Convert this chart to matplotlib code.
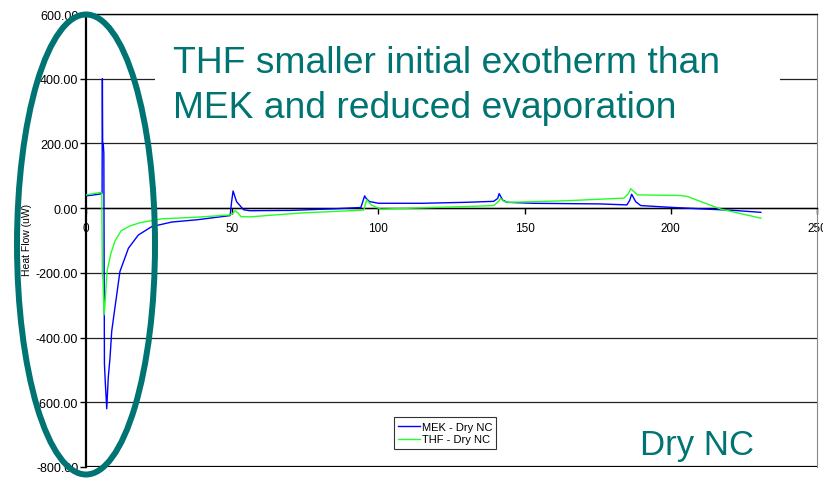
import matplotlib
matplotlib.use('Agg')
import matplotlib.pyplot as plt
from matplotlib.patches import Ellipse, Rectangle

plt.rcParams['font.family'] = ['Liberation Sans', 'DejaVu Sans']

# heat flow traces (time in min, heat flow in uW)
mek_x = [0, 2, 5.0, 5.5, 5.6, 5.7, 5.9, 6.1, 6.3, 6.6, 7.1, 7.6, 8.2, 8.8, 9.4,
         10.5, 11.6, 14.5, 17.9, 22.5, 29.3, 37.9, 49.3, 49.8, 50.3, 51.5, 53.9,
         56, 70, 85, 94, 95.3, 95.8, 97, 98.4, 100, 115, 130, 139.4, 140.8, 141.3,
         142.5, 144, 153, 176, 185, 186, 186.6, 188, 189.7, 198.9, 210, 221.6, 230.8]
mek_y = [38, 40, 44, 46, 400, 200, 200, 170, -480, -540, -620, -525, -464, -380, -340,
         -268, -196, -124, -83, -57, -43, -36, -23, 20, 53, 20, -5,
         -8, -7, -2, 2, 38, 30, 20, 18, 15, 15, 18, 21, 30, 45,
         25, 18, 15, 13, 10, 25, 43, 20, 8, 3, -2, -7, -13]

thf_x = [0, 2, 5.2, 5.4, 5.6, 5.8, 6.2, 6.6, 7.2, 8.5, 9.9, 12, 15, 18.5, 25.9,
         37.9, 49.3, 50.3, 51, 52, 53, 56, 73.3, 90.4, 95, 96, 97.5, 100.7, 115,
         130.4, 139.4, 141, 141.8, 143, 145, 164.6, 184, 185.5, 186.3, 187.5, 188.6,
         203.4, 205.7, 217.1, 230.8]
thf_y = [41, 44, 49, 45, -200, -222, -330, -283, -195, -140, -102, -70, -55, -45, -33,
         -28, -21, -15, -8, -15, -26, -27, -15, -8, -6, 26, 10, -3, 1,
         5, 8, 20, 30, 20, 18, 23, 31, 45, 60, 50, 41,
         39, 36, -3, -31]

y_ticks = [-800, -600, -400, -200, 0, 200, 400, 600]
x_ticks = [0, 50, 100, 150, 200, 250]

teal = '#007472'

fig = plt.figure(figsize=(8.23, 4.81), dpi=100)
ax = fig.add_axes([86 / 823, 13 / 481, 731 / 823, 453 / 481])

ax.plot(mek_x, mek_y, color='#0000FF', lw=1.0, label='MEK - Dry NC', zorder=3)
ax.plot(thf_x, thf_y, color='#22FF22', lw=1.0, label='THF - Dry NC', zorder=3)

ax.set_xlim(0, 250)
ax.set_ylim(-800, 600)
ax.set_yticks(y_ticks)
ax.set_yticklabels([f'{v:.2f}' for v in y_ticks])
ax.set_xticks(x_ticks)
ax.set_xticklabels([str(v) for v in x_ticks])

for v in y_ticks:
    ax.axhline(v, color='#222222', lw=0.9, zorder=1)

ax.spines['bottom'].set_position(('data', 0))
ax.spines['bottom'].set_linewidth(1.0)
ax.spines['left'].set_linewidth(1.6)
ax.spines['top'].set_linewidth(1.0)
ax.spines['right'].set_color('#888888')
ax.axhline(-800, color='black', lw=1.6, zorder=2)

ax.tick_params(axis='both', direction='out', length=4, width=1)
ax.tick_params(axis='y', labelsize=9, pad=1.5)
ax.tick_params(axis='x', labelsize=8.5, pad=6)

ax.legend(loc='lower left', bbox_to_anchor=(0.421, 0.04), borderaxespad=0,
          fontsize=8, frameon=True, fancybox=False, edgecolor='black',
          handlelength=2.0, handletextpad=0.1, labelspacing=0.25,
          borderpad=0.4).get_frame().set_linewidth(0.8)

fig.text(27 / 823, 1 - 240 / 481, 'Heat Flow (uW)', rotation=90,
         fontsize=7.5, ha='center', va='center')

# white panel behind the annotation
fig.add_artist(Rectangle((155 / 823, 1 - 125 / 481), 625 / 823, 100 / 481,
                         transform=fig.transFigure, facecolor='white',
                         edgecolor='none', zorder=4))
fig.text(173 / 823, 1 - 73 / 481, 'THF smaller initial exotherm than',
         fontsize=26.8, color=teal, va='baseline', zorder=5)
fig.text(173 / 823, 1 - 118 / 481, 'MEK and reduced evaporation',
         fontsize=26.8, color=teal, va='baseline', zorder=5)
fig.text(640 / 823, 1 - 455 / 481, 'Dry NC', fontsize=25, color=teal,
         va='baseline', zorder=5)

fig.add_artist(Ellipse((86 / 823, 1 - 245.5 / 481), 138 / 823, 460 / 481,
                       transform=fig.transFigure, fill=False,
                       edgecolor=teal, lw=4.3, zorder=6))

fig.savefig('out.png', dpi=100)
